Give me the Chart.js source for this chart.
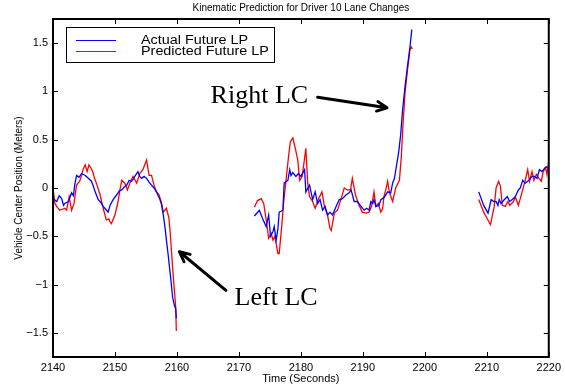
<!DOCTYPE html>
<html>
<head>
  <title>Kinematic Prediction for Driver 10 Lane Changes</title>
  <script src="https://cdn.jsdelivr.net/npm/chart.js"></script>
  <style>
    html, body { margin: 0; padding: 0; background: #fff; }
  </style>
</head>
<body>
  <canvas id="chart" width="565" height="389"></canvas>
  <script>
    // [time (s), lane position (m)], null = gap in the recording
    const actualLP = [
      [2140.0,-0.11],[2140.6,-0.14],[2141.0,-0.08],[2141.4,-0.11],[2141.7,-0.18],[2141.9,-0.16],[2142.5,-0.14],[2143.0,-0.05],
      [2143.3,-0.08],[2143.5,0.03],[2143.8,0.13],[2144.2,0.11],[2144.6,0.15],[2145.2,0.13],[2145.7,0.10],[2146.2,0.07],
      [2146.5,0.02],[2146.8,-0.04],[2147.3,-0.12],[2147.7,-0.15],[2148.1,-0.19],[2148.5,-0.22],[2148.9,-0.25],[2149.2,-0.18],
      [2149.7,-0.12],[2150.3,-0.07],[2150.7,-0.03],[2151.1,-0.02],[2151.5,0.01],[2151.9,0.03],[2152.3,0.08],[2152.7,0.07],
      [2153.2,0.12],[2153.7,0.17],[2154.0,0.12],[2154.3,0.10],[2154.7,0.12],[2155.1,0.10],[2155.5,0.06],[2155.9,0.03],
      [2156.3,0.00],[2156.7,-0.04],[2157.2,-0.11],[2157.5,-0.17],[2157.8,-0.28],[2158.1,-0.42],[2158.3,-0.54],[2158.6,-0.70],
      [2158.8,-0.82],[2159.1,-1.00],[2159.3,-1.13],[2159.6,-1.22],[2159.8,-1.25],[2159.9,-1.35],
      null,
      [2172.5,-0.29],[2173.3,-0.23],[2173.9,-0.33],[2174.4,-0.40],[2174.8,-0.28],[2175.1,-0.50],[2175.5,-0.45],[2175.7,-0.40],
      [2176.0,-0.54],[2176.3,-0.42],[2176.5,-0.25],[2177.1,-0.23],[2177.3,0.05],[2177.9,0.08],[2178.2,0.19],[2178.4,0.13],
      [2178.7,0.16],[2179.2,0.12],[2179.6,0.15],[2180.0,0.12],[2180.6,0.19],[2180.8,-0.04],[2181.4,0.03],[2181.9,-0.12],
      [2182.3,-0.04],[2182.7,-0.16],[2183.1,-0.12],[2183.5,-0.23],[2183.9,-0.19],[2184.3,-0.28],[2184.7,-0.25],[2185.1,-0.28],
      [2185.7,-0.19],[2186.2,-0.12],[2186.7,-0.11],[2187.3,-0.07],[2187.8,-0.05],[2188.1,-0.02],[2188.6,-0.14],[2189.1,-0.14],
      [2189.7,-0.19],[2190.2,-0.23],[2190.6,-0.21],[2191.0,-0.23],[2191.3,-0.14],[2191.6,-0.16],[2191.8,-0.12],[2192.1,-0.19],
      [2192.6,-0.18],[2192.9,-0.12],[2193.4,-0.10],[2194.0,-0.04],[2194.5,-0.05],[2194.8,0.05],[2195.1,0.10],[2195.4,0.22],
      [2195.8,0.38],[2196.1,0.55],[2196.4,0.80],[2196.8,1.05],[2197.2,1.26],[2197.6,1.46],[2197.9,1.64],
      null,
      [2208.7,-0.04],[2209.5,-0.18],[2210.2,-0.26],[2210.7,-0.12],[2211.1,-0.14],[2211.5,-0.14],[2211.8,-0.18],[2212.0,-0.12],
      [2212.3,-0.16],[2212.7,-0.13],[2213.3,-0.09],[2213.7,-0.14],[2214.1,-0.12],[2214.6,-0.09],[2215.1,-0.02],[2215.4,0.00],
      [2215.8,0.08],[2216.2,0.05],[2216.8,0.08],[2217.3,0.12],[2217.7,0.12],[2218.1,0.10],[2218.5,0.19],[2218.9,0.17],
      [2219.4,0.21],[2219.6,0.22],[2220.0,0.20]
    ];

    const predictedLP = [
      [2140.0,0.00],[2140.3,-0.16],[2140.7,-0.20],[2141.1,-0.23],[2141.5,-0.22],[2141.9,-0.21],[2142.2,-0.23],[2142.6,-0.09],
      [2143.0,-0.23],[2143.4,-0.16],[2143.8,0.03],[2144.3,0.07],[2144.6,0.13],[2144.9,0.20],[2145.2,0.24],[2145.5,0.17],
      [2145.8,0.24],[2146.1,0.21],[2146.4,0.17],[2146.7,0.10],[2147.0,0.05],[2147.6,-0.07],[2148.1,-0.21],[2148.6,-0.33],
      [2149.0,-0.32],[2149.2,-0.35],[2149.4,-0.37],[2150.0,-0.28],[2150.5,-0.14],[2150.8,-0.02],[2151.1,0.08],[2151.6,0.05],
      [2152.0,-0.02],[2152.4,0.05],[2152.9,0.12],[2153.5,0.05],[2154.0,0.15],[2154.5,0.19],[2155.1,0.29],[2155.5,0.13],
      [2155.9,0.13],[2156.3,0.03],[2156.7,-0.04],[2157.1,-0.07],[2157.5,-0.15],[2157.8,-0.25],[2158.3,-0.21],[2158.7,-0.31],
      [2158.9,-0.45],[2159.1,-0.64],[2159.3,-0.82],[2159.5,-0.99],[2159.8,-1.23],[2159.9,-1.48],
      null,
      [2172.5,-0.20],[2173.0,-0.13],[2173.6,-0.11],[2174.0,-0.16],[2174.4,-0.33],[2174.8,-0.52],[2175.2,-0.47],[2175.5,-0.54],
      [2175.8,-0.50],[2176.3,-0.68],[2176.5,-0.68],[2176.9,-0.40],[2177.2,-0.16],[2177.6,0.08],[2178.0,0.32],[2178.3,0.48],
      [2178.7,0.52],[2179.1,0.41],[2179.5,0.29],[2179.8,0.08],[2180.2,0.12],[2180.5,0.26],[2180.8,0.41],[2181.1,0.05],
      [2181.4,-0.09],[2181.9,-0.14],[2182.3,-0.21],[2182.8,-0.12],[2183.4,-0.04],[2183.8,-0.19],[2184.3,-0.28],[2184.7,-0.42],
      [2184.9,-0.44],[2185.4,-0.26],[2185.9,-0.23],[2186.5,-0.11],[2187.0,0.00],[2187.5,-0.02],[2188.0,-0.02],[2188.3,0.10],
      [2188.8,-0.07],[2189.4,-0.18],[2189.9,-0.25],[2190.5,-0.26],[2191.0,-0.25],[2191.4,-0.19],[2191.8,-0.04],[2192.1,-0.19],
      [2192.5,-0.16],[2192.9,-0.25],[2193.2,-0.21],[2193.4,-0.09],[2193.7,-0.02],[2194.0,0.07],[2194.3,-0.05],[2194.8,-0.14],
      [2195.3,0.00],[2195.9,0.08],[2196.2,0.32],[2196.5,0.68],[2196.8,0.98],[2197.2,1.22],[2197.6,1.43],[2197.8,1.46],[2198.0,1.44],
      null,
      [2208.7,-0.12],[2209.5,-0.25],[2210.6,-0.38],[2211.2,-0.19],[2211.5,0.00],[2211.9,0.07],[2212.2,0.02],[2212.5,-0.18],
      [2213.0,-0.19],[2213.4,-0.14],[2213.7,-0.18],[2214.3,-0.14],[2214.6,-0.09],[2215.1,-0.18],[2215.4,-0.11],[2216.0,0.03],
      [2216.2,0.08],[2216.6,0.19],[2216.9,0.07],[2217.3,0.17],[2217.6,0.08],[2218.0,0.14],[2218.4,0.10],[2218.8,0.07],
      [2219.1,0.17],[2219.5,0.21],[2219.7,0.14],[2220.0,0.28]
    ];

    const xTicks = [2140, 2150, 2160, 2170, 2180, 2190, 2200, 2210, 2220];
    const yTicks = [-1.5, -1, -0.5, 0, 0.5, 1, 1.5];
    const seriesNames = ['Actual Future LP', 'Predicted Future LP'];
    const seriesColors = ['#0000ff', '#ff0000'];

    // callouts: label, label anchor [t, m], arrow tail [t, m], arrow head [t, m]
    const callouts = [
      ['Right LC', [2173.3, 0.95], [2182.7, 0.94], [2193.9, 0.83]],
      ['Left LC', [2176.0, -1.14], [2167.9, -1.06], [2160.4, -0.66]]
    ];

    const sans = '"Liberation Sans", Arial, Helvetica, sans-serif';
    const serif = '"Liberation Serif", "Times New Roman", serif';

    function toPoints(list) {
      let lastX = null;
      return list.map(p => {
        if (p === null) return { x: lastX, y: null };
        lastX = p[0];
        return { x: p[0], y: p[1] };
      });
    }

    function arrow(ctx, x1, y1, x2, y2) {
      const a = Math.atan2(y2 - y1, x2 - x1);
      const len = 11, spread = 0.45;
      ctx.beginPath();
      ctx.moveTo(x1, y1);
      ctx.lineTo(x2, y2);
      ctx.moveTo(x2 - len * Math.cos(a - spread), y2 - len * Math.sin(a - spread));
      ctx.lineTo(x2, y2);
      ctx.lineTo(x2 - len * Math.cos(a + spread), y2 - len * Math.sin(a + spread));
      ctx.stroke();
    }

    // matlab style frame, inward ticks, legend, title and callouts
    const matlabFrame = {
      id: 'matlabFrame',
      afterDatasetsDraw(chart) {
        const ctx = chart.ctx;
        const area = chart.chartArea;
        const xs = chart.scales.x, ys = chart.scales.y;
        ctx.save();

        ctx.fillStyle = '#000';
        ctx.font = '10px ' + sans;
        ctx.textAlign = 'center';
        ctx.textBaseline = 'middle';
        ctx.fillText('Kinematic Prediction for Driver 10 Lane Changes', (area.left + area.right) / 2, 8);

        ctx.strokeStyle = '#000';
        ctx.lineWidth = 1;
        ctx.beginPath();
        xTicks.forEach(v => {
          const px = Math.round(xs.getPixelForValue(v)) + 0.5;
          ctx.moveTo(px, area.bottom); ctx.lineTo(px, area.bottom - 5);
          ctx.moveTo(px, area.top); ctx.lineTo(px, area.top + 5);
        });
        yTicks.forEach(v => {
          const py = Math.round(ys.getPixelForValue(v)) + 0.5;
          ctx.moveTo(area.left, py); ctx.lineTo(area.left + 5, py);
          ctx.moveTo(area.right, py); ctx.lineTo(area.right - 5, py);
        });
        ctx.stroke();

        ctx.lineWidth = 2;
        ctx.strokeRect(area.left, area.top, area.right - area.left, area.bottom - area.top);

        // legend
        const lx = area.left + 13, ly = area.top + 8;
        ctx.fillStyle = '#fff';
        ctx.fillRect(lx, ly, 208, 35);
        ctx.lineWidth = 1;
        ctx.strokeRect(lx + 0.5, ly + 0.5, 208, 35);
        ctx.font = '12.5px ' + sans;
        ctx.textAlign = 'left';
        seriesNames.forEach((name, i) => {
          const y = ly + 12.5 + i * 11;
          ctx.strokeStyle = seriesColors[i];
          ctx.lineWidth = 1;
          ctx.beginPath();
          ctx.moveTo(lx + 10, Math.round(y) + 0.5);
          ctx.lineTo(lx + 50, Math.round(y) + 0.5);
          ctx.stroke();
          ctx.fillStyle = '#000';
          ctx.save();
          ctx.translate(lx + 75, y + 1);
          ctx.scale(1.15, 1);
          ctx.fillText(name, 0, 0);
          ctx.restore();
        });

        // callouts
        ctx.strokeStyle = '#000';
        ctx.fillStyle = '#000';
        ctx.lineWidth = 3;
        ctx.lineCap = 'round';
        ctx.lineJoin = 'round';
        ctx.font = '26px ' + serif;
        ctx.textAlign = 'center';
        callouts.forEach(([label, at, tail, head]) => {
          ctx.fillText(label, xs.getPixelForValue(at[0]), ys.getPixelForValue(at[1]));
          arrow(ctx, xs.getPixelForValue(tail[0]), ys.getPixelForValue(tail[1]),
                     xs.getPixelForValue(head[0]), ys.getPixelForValue(head[1]));
        });
        ctx.restore();
      }
    };

    const fmt = v => (v < 0 ? '\u2212' : '') + String(Math.abs(v));

    new Chart(document.getElementById('chart').getContext('2d'), {
      type: 'line',
      data: {
        datasets: [
          { label: seriesNames[0], data: toPoints(actualLP), borderColor: seriesColors[0], borderWidth: 1.3, pointRadius: 0, tension: 0, spanGaps: false },
          { label: seriesNames[1], data: toPoints(predictedLP), borderColor: seriesColors[1], borderWidth: 1.3, pointRadius: 0, tension: 0, spanGaps: false }
        ]
      },
      options: {
        responsive: false,
        animation: false,
        layout: { padding: { top: 19, right: 15, left: 0, bottom: 0 } },
        plugins: {
          legend: { display: false },
          title: { display: false },
          tooltip: { enabled: false }
        },
        scales: {
          x: {
            type: 'linear',
            min: 2140,
            max: 2220,
            afterBuildTicks: s => { s.ticks = xTicks.map(v => ({ value: v })); },
            afterFit: s => { s.height = 32; },
            grid: { display: false, drawTicks: false },
            border: { display: false },
            ticks: { color: '#000', font: { family: sans, size: 11 }, padding: 4, maxRotation: 0, autoSkip: false, callback: v => String(v) },
            title: { display: true, text: 'Time (Seconds)', color: '#000', font: { family: sans, size: 11 }, padding: { top: 0, bottom: 3 } }
          },
          y: {
            type: 'linear',
            min: -1.75,
            max: 1.75,
            afterBuildTicks: s => { s.ticks = yTicks.map(v => ({ value: v })); },
            afterFit: s => { s.width = 53; },
            grid: { display: false, drawTicks: false },
            border: { display: false },
            ticks: { color: '#000', font: { family: sans, size: 11 }, padding: 5, autoSkip: false, callback: v => fmt(v) },
            title: { display: true, text: 'Vehicle Center Position (Meters)', color: '#000', font: { family: sans, size: 10 }, padding: { top: 13, bottom: 0 } }
          }
        }
      },
      plugins: [matlabFrame]
    });
  </script>
</body>
</html>
